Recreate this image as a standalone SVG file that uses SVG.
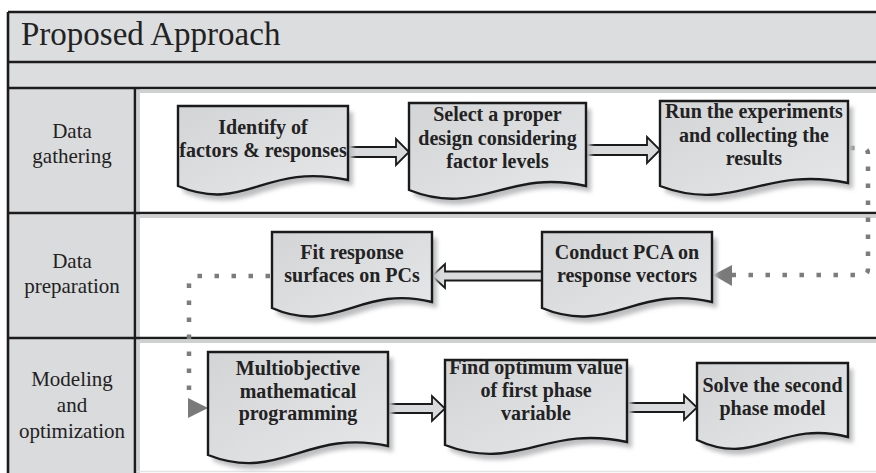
<svg xmlns="http://www.w3.org/2000/svg" width="876" height="473" viewBox="0 0 876 473">
<style>
.frame{stroke:#1c1c1c;stroke-width:2.6;fill:none}
.inner{stroke:#cfd0d2;stroke-width:3;fill:none}
text{font-family:"Liberation Serif","Times New Roman",Times,"DejaVu Serif",serif;fill:#222}
.title{font-size:33px}
.lane{font-size:21px;text-anchor:middle}
.nt{font-size:20px;font-weight:bold;text-anchor:middle}
.doc{fill:url(#g);stroke:#1a1a1a;stroke-width:2.4;stroke-linejoin:miter}
.shadow{fill:#bdbec0;filter:url(#blur)}
.barrow{fill:#d9dadc;stroke:#1a1a1a;stroke-width:1.8;stroke-linejoin:miter}
.dots{fill:none;stroke:#7c7c7c;stroke-width:4.5;stroke-dasharray:4.5 12.5}
.tri{fill:#7a7a7a}
</style>
<defs>
<linearGradient id="g" x1="0" y1="0" x2="1" y2="1">
<stop offset="0" stop-color="#d3d4d6"/>
<stop offset="1" stop-color="#e6e7e9"/>
</linearGradient>
<filter id="blur" x="-10%" y="-10%" width="130%" height="130%">
<feGaussianBlur stdDeviation="2"/>
</filter>
</defs>
<g id="frame">
<rect x="8" y="12" width="880" height="76" fill="#dcdddf"/>
<rect x="8" y="88" width="127" height="390" fill="#dadbdd"/>
<rect x="135" y="88" width="750" height="390" fill="#ffffff"/>
<path class="inner" d="M137 91.5H880M137 216.5H880M137 341.5H880M138.5 88V473"/>
<path d="M137 471.5H880" stroke="#e2e3e5" stroke-width="1.5"/>
<path class="frame" d="M8 12H884M8 62H884M8 88H884M8 213H884M8 338H884M8 12V480M135 88V480"/>
<text class="title" x="21" y="45">Proposed Approach</text>
</g>
<g id="lane-labels">
<text class="lane" x="72" y="138">Data</text>
<text class="lane" x="72" y="163">gathering</text>
<text class="lane" x="72" y="268">Data</text>
<text class="lane" x="72" y="293">preparation</text>
<text class="lane" x="72" y="386">Modeling</text>
<text class="lane" x="72" y="412">and</text>
<text class="lane" x="72" y="438">optimization</text>
</g>
<g id="connectors">
<path class="barrow" d="M348 147H396V139L409 152L396 165V157H348Z"/>
<path class="barrow" d="M586 145H647V137L660 150L647 163V155H586Z"/>
<path class="barrow" d="M542 271.5H445V264L432 276L445 288V280.5H542Z"/>
<path class="barrow" d="M388 404H432V396L445 408.5L432 421V413H388Z"/>
<path class="barrow" d="M627 403H684V395L697 407.5L684 420V412H627Z"/>
<path class="dots" d="M850 148H862Q868 148 868 154V269Q868 275 862 275H732"/>
<polygon class="tri" points="713,275 732,265 732,286"/>
<path class="dots" d="M270 276H198Q189 276 189 285V398"/>
<polygon class="tri" points="188,398 208,408 188,418"/>
</g>
<g id="n1">
<path class="shadow" transform="translate(5,6)" d="M178 106H348V180C263.5 162 246 214 178 186Z"/>
<path class="doc" d="M178 106H348V180C263.5 162 246 214 178 186Z"/>
<text class="nt" x="263" y="134">Identify of</text>
<text class="nt" x="263" y="157">factors &amp; responses</text>
</g>
<g id="n2">
<path class="shadow" transform="translate(5,6)" d="M409 103H586V186C506 168 480 218 409 190Z"/>
<path class="doc" d="M409 103H586V186C506 168 480 218 409 190Z"/>
<text class="nt" x="497.5" y="121">Select a proper</text>
<text class="nt" x="497.5" y="145">design considering</text>
<text class="nt" x="497.5" y="168">factor levels</text>
</g>
<g id="n3">
<path class="shadow" transform="translate(5,6)" d="M660 101H848V183C763 165 735 214 660 186Z"/>
<path class="doc" d="M660 101H848V183C763 165 735 214 660 186Z"/>
<text class="nt" x="754" y="118">Run the experiments</text>
<text class="nt" x="754" y="142">and collecting the</text>
<text class="nt" x="754" y="165">results</text>
</g>
<g id="n4">
<path class="shadow" transform="translate(5,6)" d="M272 232H432V302C360 284 336 336 272 308Z"/>
<path class="doc" d="M272 232H432V302C360 284 336 336 272 308Z"/>
<text class="nt" x="352" y="259">Fit response</text>
<text class="nt" x="352" y="282">surfaces on PCs</text>
</g>
<g id="n5">
<path class="shadow" transform="translate(5,6)" d="M542 232H712V302C635.5 284 610 336 542 308Z"/>
<path class="doc" d="M542 232H712V302C635.5 284 610 336 542 308Z"/>
<text class="nt" x="627" y="259">Conduct PCA on</text>
<text class="nt" x="627" y="282">response vectors</text>
</g>
<g id="n6">
<path class="shadow" transform="translate(5,6)" d="M208 352H388V446C307 428 280 483 208 455Z"/>
<path class="doc" d="M208 352H388V446C307 428 280 483 208 455Z"/>
<text class="nt" x="298" y="375">Multiobjective</text>
<text class="nt" x="298" y="398">mathematical</text>
<text class="nt" x="298" y="420">programming</text>
</g>
<g id="n7">
<path class="shadow" transform="translate(5,6)" d="M445 360H627V442C545 424 518 473 445 445Z"/>
<path class="doc" d="M445 360H627V442C545 424 518 473 445 445Z"/>
<text class="nt" x="536" y="374">Find optimum value</text>
<text class="nt" x="536" y="397">of first phase</text>
<text class="nt" x="536" y="420">variable</text>
</g>
<g id="n8">
<path class="shadow" transform="translate(5,6)" d="M697 363H848V437C780 419 757 468 697 440Z"/>
<path class="doc" d="M697 363H848V437C780 419 757 468 697 440Z"/>
<text class="nt" x="772.5" y="392">Solve the second</text>
<text class="nt" x="772.5" y="415">phase model</text>
</g>
</svg>
